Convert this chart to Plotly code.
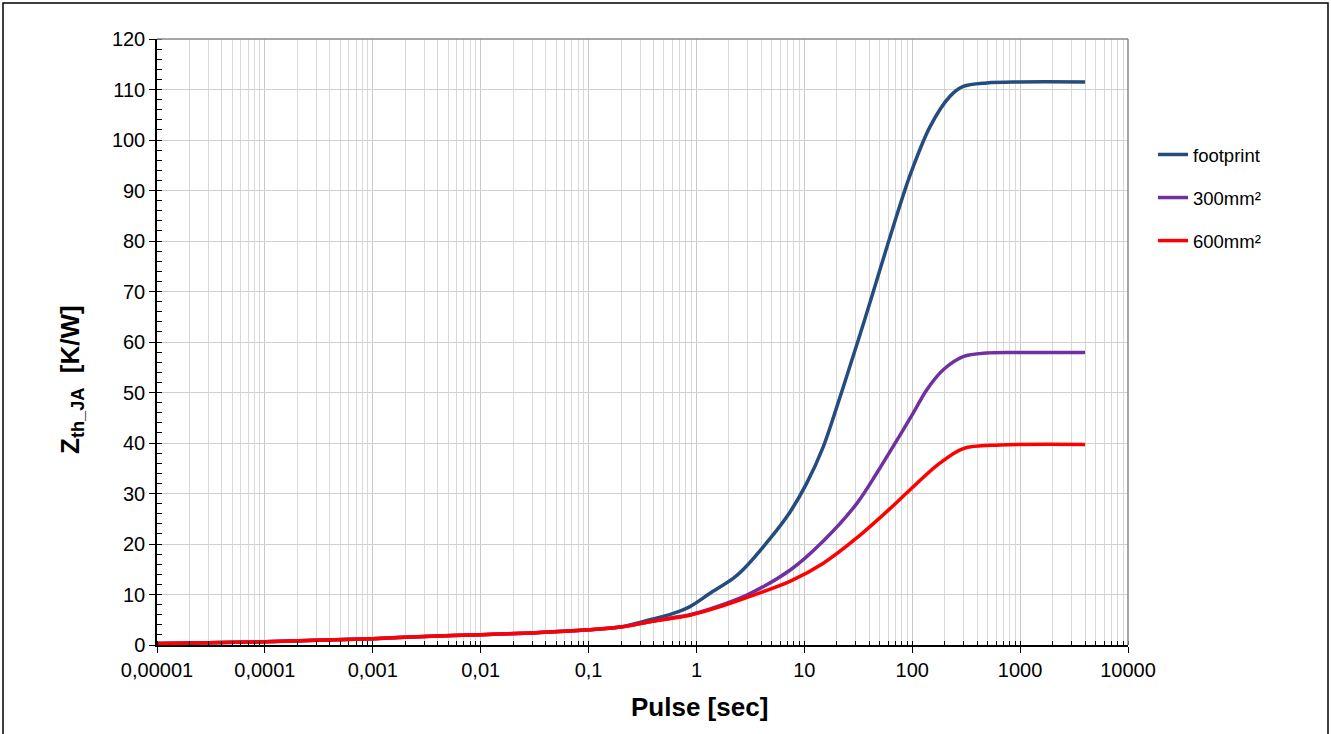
import plotly.graph_objects as go

# ---- data ----
t_foot = [1e-5, 3e-5, 1e-4, 3e-4, 1e-3, 3e-3, 0.01, 0.03, 0.1, 0.2, 0.37, 0.6, 0.87,
          1.33, 2.19, 2.7, 4.7, 7.35, 10.5, 15, 19.9, 27, 36, 50.2, 71.2, 95.3, 146,
          223, 297, 489, 1000, 4000]
z_foot = [0.3, 0.45, 0.65, 0.95, 1.25, 1.7, 2.05, 2.4, 3.0, 3.6, 5.0, 6.2, 7.6,
          10.2, 13.2, 14.9, 20.8, 26.3, 32.0, 39.3, 47.0, 55.8, 64.2, 74.3, 84.8, 93.0, 102.6,
          108.6, 110.6, 111.3, 111.5, 111.5]

t_300 = [1e-5, 3e-5, 1e-4, 3e-4, 1e-3, 3e-3, 0.01, 0.03, 0.1, 0.2, 0.37, 0.6, 0.87,
         1.5, 3.0, 7.35, 15, 30.6, 46.8, 62.2, 102, 136, 194, 297, 489, 1000, 4000]
z_300 = [0.3, 0.45, 0.65, 0.95, 1.25, 1.7, 2.05, 2.4, 3.0, 3.55, 4.6, 5.4, 6.0,
         7.5, 10.0, 14.8, 20.6, 28.0, 34.0, 38.3, 45.9, 50.5, 54.5, 57.1, 57.8, 57.9, 57.9]

t_600 = [1e-5, 3e-5, 1e-4, 3e-4, 1e-3, 3e-3, 0.01, 0.03, 0.1, 0.2, 0.37, 0.6, 0.87,
         1.5, 3.0, 7.35, 15, 30.6, 62.2, 95, 180, 297, 650, 4000]
z_600 = [0.3, 0.45, 0.65, 0.95, 1.25, 1.7, 2.05, 2.4, 3.0, 3.55, 4.6, 5.3, 5.9,
         7.3, 9.5, 12.6, 16.2, 21.2, 27.0, 30.7, 36.0, 38.9, 39.6, 39.7]

series_names = ["footprint", "300mm²", "600mm²"]
series_colors = ["#244C7E", "#7030A0", "#FF0000"]

x_tickvals = [1e-5, 1e-4, 1e-3, 1e-2, 1e-1, 1, 10, 100, 1000, 10000]
x_ticktext = ["0,00001", "0,0001", "0,001", "0,01", "0,1", "1", "10", "100", "1000", "10000"]

FONT = "Liberation Sans, Arial, sans-serif"

fig = go.Figure()
for i, (tx, zy) in enumerate([(t_foot, z_foot), (t_300, z_300), (t_600, z_600)]):
    fig.add_trace(go.Scatter(
        x=tx, y=zy, mode="lines", name=series_names[i],
        line=dict(color=series_colors[i], width=3.5, shape="spline", smoothing=0.9),
        legendgroup=series_names[i],
    ))

fig.update_layout(
    width=1331, height=734,
    margin=dict(l=157, r=203, t=39, b=89),
    paper_bgcolor="white", plot_bgcolor="white",
    font=dict(family=FONT, size=20, color="black"),
    showlegend=True,
    legend=dict(x=(1153 - 157) / 971, y=0.84, xanchor="left", yanchor="top",
                font=dict(size=18.5, family=FONT), traceorder="grouped",
                tracegroupgap=16, bgcolor="rgba(0,0,0,0)"),
    xaxis=dict(type="log", range=[-5, 4], tickvals=x_tickvals, ticktext=x_ticktext,
               showgrid=True, gridcolor="#C8C8C8", gridwidth=1,
               ticks="outside", ticklen=6, tickcolor="black",
               showline=True, linecolor="black", linewidth=1.5,
               tickfont=dict(size=20, family=FONT), zeroline=False,
               minor=dict(dtick="D1", showgrid=True, gridcolor="#D9D9D9", gridwidth=1,
                          ticks="inside", ticklen=4, tickcolor="black")),
    yaxis=dict(range=[0, 120], dtick=10, showgrid=True, gridcolor="#D0D0D0", gridwidth=1,
               ticks="outside", ticklen=6, tickcolor="black",
               showline=True, linecolor="black", linewidth=1.5,
               tickfont=dict(size=20, family=FONT), zeroline=False,
               minor=dict(dtick=2, ticks="inside", ticklen=5, tickcolor="black",
                          showgrid=False)),
)

# top/right plot frame (gray)
fig.add_shape(type="line", xref="paper", yref="paper", x0=0, x1=1, y0=1, y1=1,
              line=dict(color="#888888", width=1.5))
fig.add_shape(type="line", xref="paper", yref="paper", x0=1, x1=1, y0=0, y1=1,
              line=dict(color="#888888", width=1.5))
# outer chart frame
fig.add_shape(type="rect", xref="paper", yref="paper",
              x0=(3 - 157) / 971, x1=(1328 - 157) / 971,
              y0=(645 - 745) / 606, y1=(645 - 3) / 606,
              line=dict(color="black", width=1.5), fillcolor="rgba(0,0,0,0)")

fig.add_annotation(text="<b>Pulse [sec]</b>", xref="paper", yref="paper",
                   x=(699 - 157) / 971, y=(645 - 707) / 606, showarrow=False,
                   xanchor="center", yanchor="middle",
                   font=dict(size=26, family=FONT))
fig.add_annotation(text="<b>Z<sub>th_JA</sub>  [K/W]</b>", xref="paper", yref="paper",
                   x=(71 - 157) / 971, y=(645 - 380) / 606, showarrow=False,
                   xanchor="center", yanchor="middle",
                   textangle=-90, font=dict(size=26, family=FONT))

fig.write_html("out.html", post_script="document.body.style.margin='0';",
               config={"displayModeBar": False})
